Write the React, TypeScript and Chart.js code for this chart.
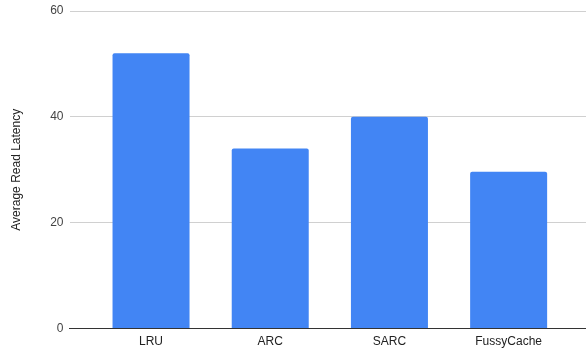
import React, { useEffect, useRef } from "react";
import { Chart, registerables } from "chart.js";

Chart.register(...registerables);

const categories = ["LRU", "ARC", "SARC", "FussyCache"];
const latencyValues = [52, 34, 40, 29.6];
const yTicks = [0, 20, 40, 60];
const yAxisTitle = "Average Read Latency";

const FONT = "Arial, 'Liberation Sans', sans-serif";

export default function App() {
  const ref = useRef<HTMLCanvasElement | null>(null);

  useEffect(() => {
    if (!ref.current) return;
    const chart = new Chart(ref.current, {
      type: "bar",
      data: {
        datasets: [
          {
            label: yAxisTitle,
            data: categories.map((c, i) => ({ x: i, y: latencyValues[i] })),
            backgroundColor: "#4285F4",
            borderRadius: { topLeft: 2, topRight: 2, bottomLeft: 0, bottomRight: 0 },
            borderSkipped: "bottom",
            barPercentage: 0.646,
            categoryPercentage: 1,
          },
        ],
      },
      options: {
        animation: false,
        responsive: true,
        maintainAspectRatio: false,
        layout: { padding: { top: 11, right: 0, bottom: 0, left: 0 } },
        plugins: { legend: { display: false }, tooltip: { enabled: false } },
        scales: {
          x: {
            type: "linear",
            offset: false,
            min: -0.684,
            max: 3.649,
            afterBuildTicks: (scale: any) => {
              scale.ticks = categories.map((_, i) => ({ value: i }));
            },
            afterFit: (scale: any) => {
              scale.height = 21.5;
            },
            ticks: {
              autoSkip: false,
              maxRotation: 0,
              padding: 6,
              color: "#222222",
              font: { family: FONT, size: 12 },
              callback: (v: any) => categories[Math.round(Number(v))] ?? "",
            },
            grid: { display: false, drawTicks: false, offset: false },
            border: { display: true, color: "#333333", width: 1 },
          },
          y: {
            min: 0,
            max: 60,
            afterBuildTicks: (scale: any) => {
              scale.ticks = yTicks.map((v) => ({ value: v }));
            },
            afterFit: (scale: any) => {
              scale.width = 69.5;
              scale.paddingTop = 0;
              scale.paddingBottom = 0;
            },
            ticks: {
              padding: 6,
              color: "#444444",
              font: { family: FONT, size: 12 },
            },
            grid: { color: "#d0d0d0", drawTicks: false, lineWidth: 1 },
            border: { display: false },
            title: {
              display: true,
              text: yAxisTitle,
              color: "#222222",
              font: { family: FONT, size: 12 },
              padding: { top: 9, bottom: 0 },
            },
          },
        },
      },
    });
    return () => chart.destroy();
  }, []);

  return (
    <div style={{ position: "fixed", left: 0, top: 0, width: 586, height: 350 }}>
      <canvas ref={ref} />
    </div>
  );
}
